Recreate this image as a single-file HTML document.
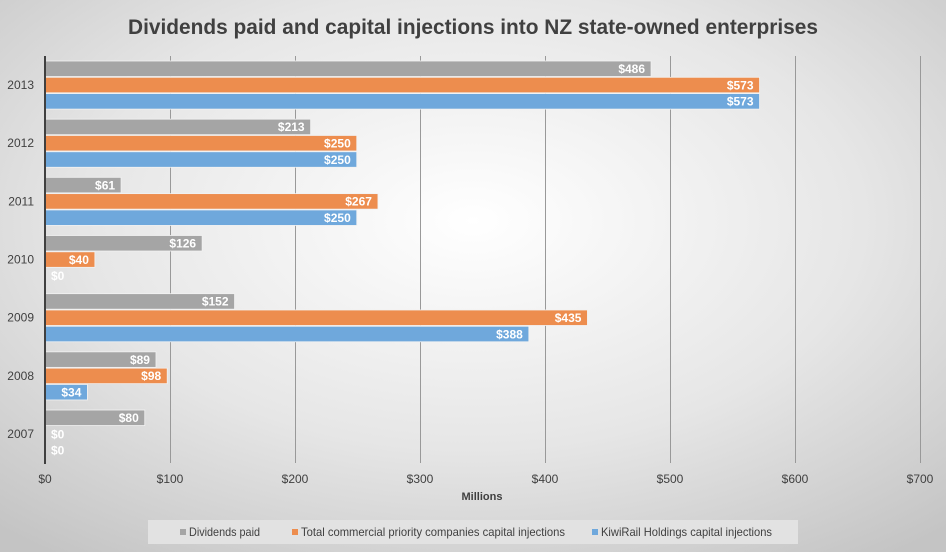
<!DOCTYPE html>
<html><head><meta charset="utf-8"><style>
html,body{margin:0;padding:0}
body{width:946px;height:552px;overflow:hidden;font-family:"Liberation Sans",sans-serif}
</style></head><body>
<svg width="946" height="552" xmlns="http://www.w3.org/2000/svg" font-family="Liberation Sans, sans-serif">
<defs>
<radialGradient id="bg" cx="50%" cy="40%" r="75%">
<stop offset="0" stop-color="#ffffff"/><stop offset="0.55" stop-color="#e6e6e6"/><stop offset="1" stop-color="#c4c4c4"/>
</radialGradient>
</defs>
<rect width="946" height="552" fill="url(#bg)"/>
<text x="473" y="34" text-anchor="middle" font-size="21" font-weight="bold" fill="#404040" textLength="690" lengthAdjust="spacingAndGlyphs">Dividends paid and capital injections into NZ state-owned enterprises</text>
<g stroke="#999" stroke-width="1">
<line x1="170.5" y1="56" x2="170.5" y2="463"/><line x1="295.5" y1="56" x2="295.5" y2="463"/>
<line x1="420.5" y1="56" x2="420.5" y2="463"/><line x1="545.5" y1="56" x2="545.5" y2="463"/>
<line x1="670.5" y1="56" x2="670.5" y2="463"/><line x1="795.5" y1="56" x2="795.5" y2="463"/>
<line x1="920.5" y1="56" x2="920.5" y2="463"/>
</g>
<g font-size="12" fill="#404040" text-anchor="middle">
<text x="45" y="483">$0</text><text x="170" y="483">$100</text><text x="295" y="483">$200</text><text x="420" y="483">$300</text><text x="545" y="483">$400</text><text x="670" y="483">$500</text><text x="795" y="483">$600</text><text x="920" y="483">$700</text>
<text x="482" y="500" font-weight="bold" font-size="11">Millions</text>
</g>
<g id="bars" font-size="12" font-weight="bold" fill="#fff"></g>
<line x1="45" y1="56" x2="45" y2="464" stroke="#404040" stroke-width="2"/>
<rect x="148" y="520" width="650" height="24" fill="#e2e2e2"/>
<g font-size="12" fill="#404040">
<rect x="180" y="529" width="6" height="6" fill="#a5a5a5"/><text x="189" y="536" textLength="71" lengthAdjust="spacingAndGlyphs">Dividends paid</text>
<rect x="292" y="529" width="6" height="6" fill="#ed8d4e"/><text x="301" y="536" textLength="264" lengthAdjust="spacingAndGlyphs">Total commercial priority companies capital injections</text>
<rect x="592" y="529" width="6" height="6" fill="#6fa8dc"/><text x="601" y="536" textLength="171" lengthAdjust="spacingAndGlyphs">KiwiRail Holdings capital injections</text>
</g>
</svg>
<script>
var d=[[2013,486,573,573],[2012,213,250,250],[2011,61,267,250],[2010,126,40,0],[2009,152,435,388],[2008,89,98,34],[2007,80,0,0]];
var cols=["#a5a5a5","#ed8d4e","#6fa8dc"];
var s="";
d.forEach(function(r,i){
 var t=61+i*58.17;
 s+='<text x="34" y="'+(t+28)+'" text-anchor="end" font-weight="normal" fill="#404040">'+r[0]+'</text>';
 for(var k=0;k<3;k++){
  var y=t+k*16.3, w=r[k+1]*1.247;
  if(w>0){s+='<rect x="45" y="'+y+'" width="'+w+'" height="15.5" fill="'+cols[k]+'" stroke="#f2f2f2" stroke-width="0.8"/>';
   s+='<text x="'+(45+w-6)+'" y="'+(y+12)+'" text-anchor="end">$'+r[k+1]+'</text>';}
  else s+='<text x="51" y="'+(y+12)+'">$0</text>';
 }
});
document.getElementById("bars").innerHTML=s;
</script>
</body></html>
